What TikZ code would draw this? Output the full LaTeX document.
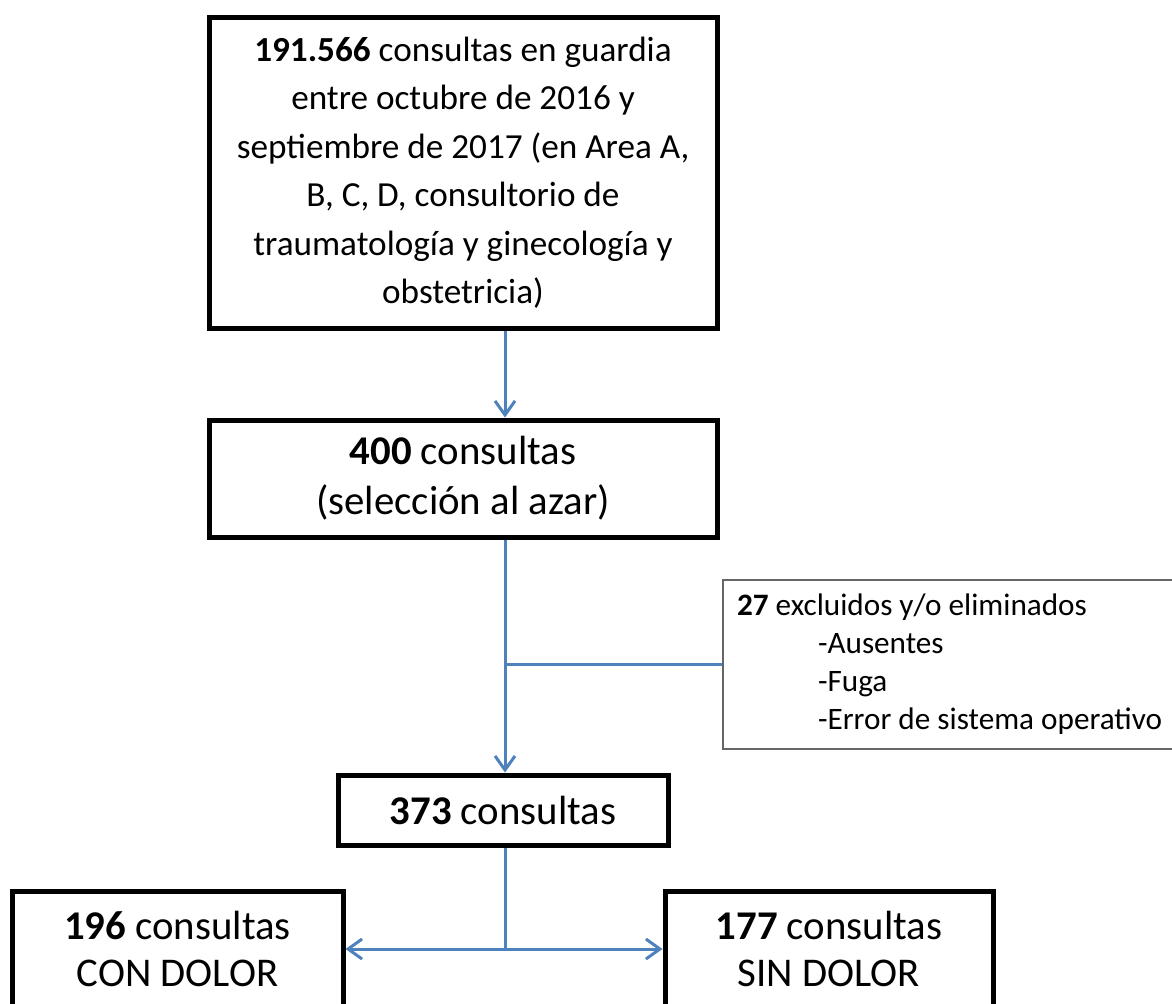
\documentclass[tikz,border=0pt]{standalone}
\usepackage{fontspec}
\setmainfont{Carlito}
\usepackage{xcolor}
\usetikzlibrary{arrows.meta,positioning,calc}
\definecolor{flowblue}{HTML}{4F81BD}
\tikzset{
    flow-box/.style={
        rectangle,
        draw=black,
        line width=2.5pt,
        align=center,
        inner sep=0pt,
        font=\fontsize{20.4}{23.5}\selectfont
    },
    note-box/.style={
        rectangle,
        draw=black!60,
        line width=1pt,
        align=flush left,
        inner xsep=7pt,
        inner ysep=0pt,
        text width=226pt,
        font=\fontsize{15.6}{19}\selectfont
    },
    flow-arrow/.style={
        draw=flowblue,
        line width=1.5pt,
        -{Straight Barb[length=7pt,width=10pt]}
    },
    flow-line/.style={
        draw=flowblue,
        line width=1.5pt
    },
}

\begin{document}
\begin{tikzpicture}[x=0.5pt,y=-0.5pt]
        \clip (0,0) rectangle (1172,1003);
        \coordinate (T) at (505,0);
        \node [flow-box,minimum width=254pt,minimum height=155.5pt,
               font=\fontsize{17.6}{24.25}\selectfont] (C1) at (463,172.5)
            {\textbf{191.566} consultas en guardia\\ entre octubre de 2016 y\\ septiembre de 2017 (en Area A,\\ B, C, D, consultorio de\\ traumatología y ginecología y\\ obstetricia)};
        \node [flow-box,minimum width=254pt,minimum height=58.5pt,
               font=\fontsize{20.4}{25}\selectfont] (C2) at (463,478.5)
            {\textbf{400} consultas\\ (selección al azar)};
        \node [flow-box,minimum width=165pt,minimum height=35pt] (C3) at (503,810)
            {\textbf{373} consultas};
        \node [flow-box,minimum width=165.5pt,minimum height=58pt] (C4) at (177.5,949)
            {\textbf{196} consultas\\ CON DOLOR};
        \node [flow-box,minimum width=164pt,minimum height=58pt] (C5) at (829,949)
            {\textbf{177} consultas\\ SIN DOLOR};
        \node [note-box,minimum height=84.5pt,anchor=west] (E) at (722,664.5)
            {\textbf{27} excluidos y/o eliminados\\
             \hspace*{40.5pt}-Ausentes\\
             \hspace*{40.5pt}-Fuga\\
             \hspace*{40.5pt}-Error de sistema operativo};
        \coordinate (S) at (T |- C4.east);
        \draw [flow-arrow] (C1.south -| T) -- (C2.north -| T);
        \draw [flow-arrow] (C2.south -| T) -- (C3.north -| T);
        \draw [flow-line] (T |- E.west) -- (E.west);
        \draw [flow-line] (C3.south -| T) -- (S);
        \draw [flow-arrow] (S) -- (C4.east);
        \draw [flow-arrow] (S) -- (C5.west);
    \end{tikzpicture}
\end{document}
